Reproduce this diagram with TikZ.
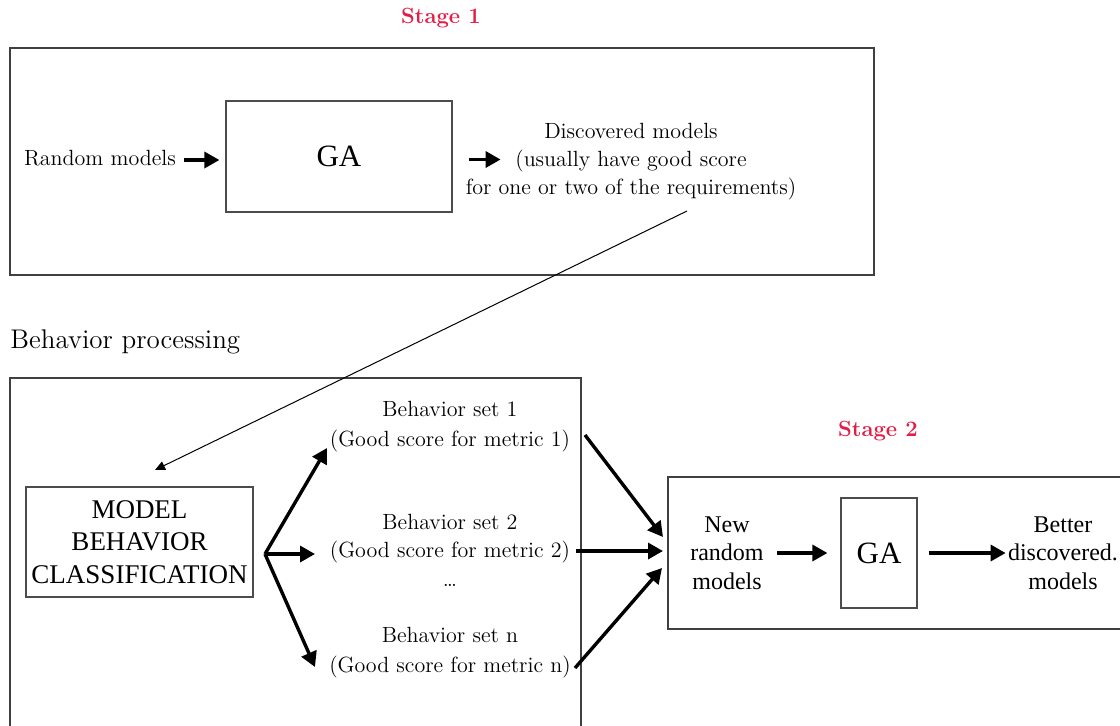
\documentclass[tikz,border=0pt]{standalone}
\usepackage{fontspec}
\newfontfamily\timesf{Liberation Serif}
\usetikzlibrary{arrows.meta}
\definecolor{stagered}{RGB}{226,30,72}
\begin{document}
\begin{tikzpicture}[x=0.5pt,y=-0.5pt,
  frame/.style={draw=black!75,line width=0.8pt},
  inbox/.style={draw=black!70,line width=0.6pt},
  lbl/.style={inner sep=0pt,font=\fontsize{11}{14}\selectfont,align=center},
  tlbl/.style={inner sep=0pt,font=\timesf\fontsize{12}{14.25}\selectfont,align=center},
  gafont/.style={font=\timesf\fontsize{15.5}{16}\selectfont},
  stagelbl/.style={inner sep=0pt,text=stagered,font=\bfseries\fontsize{11}{12}\selectfont},
  fat/.style={line width=1.7pt,-{Triangle[length=7.5pt,width=8pt]}},
  thinarrow/.style={line width=0.5pt,-{Triangle[length=5pt,width=4.5pt]}}]
\useasboundingbox (0,0) rectangle (1120,725);

% ---------- Stage 1 ----------
\node[stagelbl] (s1) at (441,18) {Stage 1};
\draw[frame] (10,48) rectangle (874,275);
\node[inbox,gafont,minimum width=113pt,minimum height=55.5pt] (ga1) at (339,156.5) {GA};
\node[lbl] (rm) at (100,158) {Random models};
\node[lbl] (disc) at (631,162) {Discovered models\\(usually have good score\\for one or two of the requirements)};
\draw[fat] ([xshift=4pt,yshift=-1pt]rm.east) -- ([xshift=-3pt,yshift=-1pt]rm.east -| ga1.west);
\draw[fat] ([xshift=8pt,yshift=-1.5pt]ga1.east) -- ([xshift=24pt,yshift=-1.5pt]ga1.east);

% ---------- Behavior processing ----------
\node[lbl,font=\fontsize{13.5}{15}\selectfont,anchor=west] (bp) at (10,342) {Behavior processing};
\draw[frame] (10,735) -- (10,378) -- (581,378) -- (581,735);
\node[inbox,font=\timesf\fontsize{13.5}{16.25}\selectfont,align=center,inner sep=1pt,
      minimum width=113.5pt,minimum height=55pt] (mbc) at (139.5,542) {MODEL\\BEHAVIOR\\CLASSIFICATION};

\coordinate (tstart) at (687,211);
\coordinate (tend) at (155,470);
\draw[thinarrow] (tstart) -- (tend);

\node[lbl,font=\fontsize{11}{15}\selectfont] (bs1) at (450,427) {Behavior set 1\\(Good score for metric 1)};
\node[lbl] (bs2) at (450,539) {Behavior set 2\\(Good score for metric 2)};
\node[lbl] (dots) at (450,585) {\ldots};
\node[lbl,font=\fontsize{11}{15}\selectfont] (bsn) at (450,653) {Behavior set n\\(Good score for metric n)};

\coordinate (split) at (265,554);
\coordinate (b1) at (327,448);
\coordinate (b2) at (315,554);
\coordinate (b3) at (315,667);
\draw[fat] (split) -- (b1);
\draw[fat] (split) -- (b2);
\draw[fat] (split) -- (b3);

% ---------- Stage 2 ----------
\node[stagelbl] (s2) at (878,431) {Stage 2};
\draw[frame] (1130,477) -- (668,477) -- (668,629) -- (1130,629);
\node[inbox,gafont,minimum width=38pt,minimum height=55pt] (ga2) at (879,553) {GA};
\node[tlbl] (nrm) at (727,553) {New\\random\\models};
\node[tlbl] (bdm) at (1063,553) {Better\\discovered.\\models};

\coordinate (o1) at (585,435);
\coordinate (o2) at (576,551);
\coordinate (o3) at (575,668);
\coordinate (i1) at (663,537);
\coordinate (i2) at (663,551);
\coordinate (i3) at (662,568);
\draw[fat] (o1) -- (i1);
\draw[fat] (o2) -- (i2);
\draw[fat] (o3) -- (i3);

\draw[fat,shorten <=6.5pt,shorten >=6.5pt] (nrm.east) -- (ga2.west);
\draw[fat,shorten <=5.5pt,shorten >=1pt] (ga2.east) -- (bdm.west);
\end{tikzpicture}
\end{document}
